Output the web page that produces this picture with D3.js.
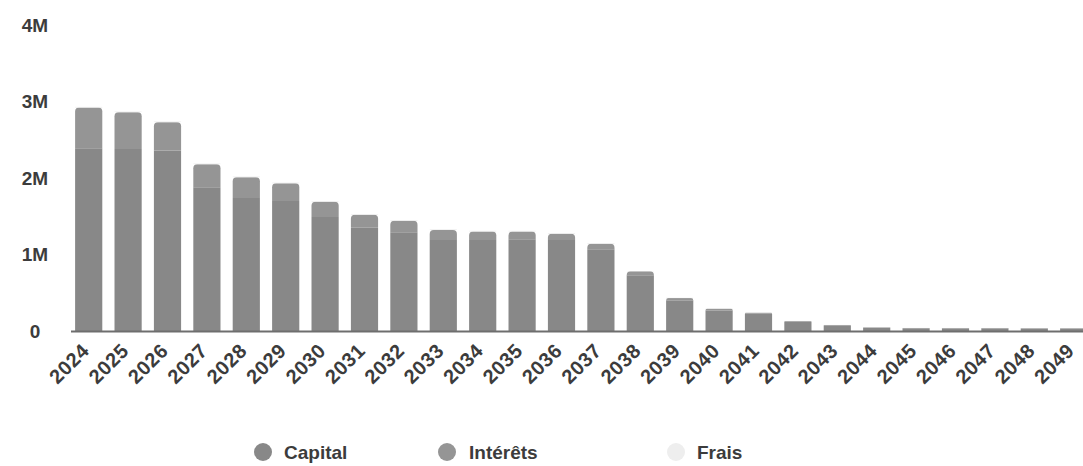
<!DOCTYPE html>
<html>
<head>
<meta charset="utf-8">
<script src="https://cdn.jsdelivr.net/npm/d3@7"></script>
<style>
  html, body { margin: 0; padding: 0; background: #fff; }
  svg { display: block; font-family: "Liberation Sans", Arial, sans-serif; }
</style>
</head>
<body>
<svg id="chart" width="1083" height="466"></svg>
<script>
// Annual repayment schedule, in millions
const years = ["2024","2025","2026","2027","2028","2029","2030","2031","2032","2033","2034","2035","2036",
               "2037","2038","2039","2040","2041","2042","2043","2044","2045","2046","2047","2048","2049"];
const capital = [2.39, 2.38, 2.36, 1.88, 1.74, 1.70, 1.49, 1.35, 1.29, 1.19, 1.19, 1.20, 1.19,
                 1.07, 0.73, 0.40, 0.27, 0.225, 0.12, 0.07, 0.045, 0.035, 0.035, 0.035, 0.035, 0.035];
const interets = [0.53, 0.48, 0.37, 0.30, 0.27, 0.23, 0.20, 0.17, 0.15, 0.13, 0.11, 0.10, 0.08,
                  0.07, 0.05, 0.03, 0.02, 0.015, 0.01, 0.008, 0.005, 0.004, 0.003, 0.003, 0.002, 0.002];
const frais = [0.01, 0.01, 0.01, 0.01, 0.01, 0.01, 0.01, 0.01, 0.01, 0.01, 0.01, 0.01, 0.01,
               0.01, 0.005, 0.005, 0.005, 0.005, 0.002, 0.002, 0.002, 0.002, 0.002, 0.002, 0.002, 0.002];
const seriesNames = ["Capital", "Intérêts", "Frais"];
const yTicks = [0, 1, 2, 3, 4];
const yTickLabels = ["0", "1M", "2M", "3M", "4M"];

const colors = { "Capital": "#888888", "Intérêts": "#959595", "Frais": "#eeeeee" };
const textColor = "#3c3c3c";
const fontSize = 19;

const svg = d3.select("#chart");

const x = d3.scaleBand()
  .domain(years)
  .range([69, 69 + 39.4 * 26])
  .paddingInner(0.31)
  .paddingOuter(0.155);

const y = d3.scaleLinear().domain([0, 4]).range([331, 25]);

const rows = years.map((yr, i) => ({ year: yr, "Capital": capital[i], "Intérêts": interets[i], "Frais": frais[i] }));
const stacked = d3.stack().keys(seriesNames)(rows);

// Path for a bar segment, optionally with rounded top corners
function barPath(x0, w, yTop, yBot, r) {
  const h = yBot - yTop;
  r = Math.min(r, h, w / 2);
  if (r <= 0) return `M${x0},${yBot}V${yTop}H${x0 + w}V${yBot}Z`;
  return `M${x0},${yBot}V${yTop + r}Q${x0},${yTop} ${x0 + r},${yTop}H${x0 + w - r}Q${x0 + w},${yTop} ${x0 + w},${yTop + r}V${yBot}Z`;
}

const g = svg.append("g");
stacked.forEach((layer, li) => {
  g.selectAll(null)
    .data(layer)
    .enter()
    .append("path")
    .attr("fill", colors[layer.key])
    .attr("d", d => barPath(x(d.data.year), x.bandwidth(), y(d[1]), y(d[0]), li === 1 ? 4 : 0));
});

// x axis baseline
svg.append("line")
  .attr("x1", 71).attr("x2", 1083)
  .attr("y1", 331.5).attr("y2", 331.5)
  .attr("stroke", "#6e6e6e").attr("stroke-width", 2);

// y tick labels
svg.append("g")
  .selectAll("text")
  .data(yTicks)
  .enter()
  .append("text")
  .attr("x", 35)
  .attr("y", d => y(d))
  .attr("dy", "0.35em")
  .attr("text-anchor", "middle")
  .attr("font-size", fontSize)
  .attr("font-weight", "bold")
  .attr("fill", textColor)
  .text((d, i) => yTickLabels[i]);

// x tick labels, rotated
svg.append("g")
  .selectAll("text")
  .data(years)
  .enter()
  .append("text")
  .attr("transform", d => `translate(${x(d) + x.bandwidth() / 2 - 3},${347}) rotate(-45)`)
  .attr("text-anchor", "end")
  .attr("dy", "0.35em")
  .attr("font-size", 20)
  .attr("letter-spacing", 0.6)
  .attr("font-weight", "bold")
  .attr("fill", textColor)
  .text(d => d);

// legend
const legendItems = [
  { name: "Capital", cx: 263, tx: 284 },
  { name: "Intérêts", cx: 447, tx: 469 },
  { name: "Frais", cx: 676, tx: 697 }
];
const legend = svg.append("g");
legend.selectAll("circle")
  .data(legendItems)
  .enter()
  .append("circle")
  .attr("cx", d => d.cx)
  .attr("cy", 452)
  .attr("r", 9)
  .attr("fill", d => colors[d.name]);
legend.selectAll("text")
  .data(legendItems)
  .enter()
  .append("text")
  .attr("x", d => d.tx)
  .attr("y", 452)
  .attr("dy", "0.35em")
  .attr("font-size", fontSize)
  .attr("font-weight", "bold")
  .attr("fill", textColor)
  .text(d => d.name);
</script>
</body>
</html>
